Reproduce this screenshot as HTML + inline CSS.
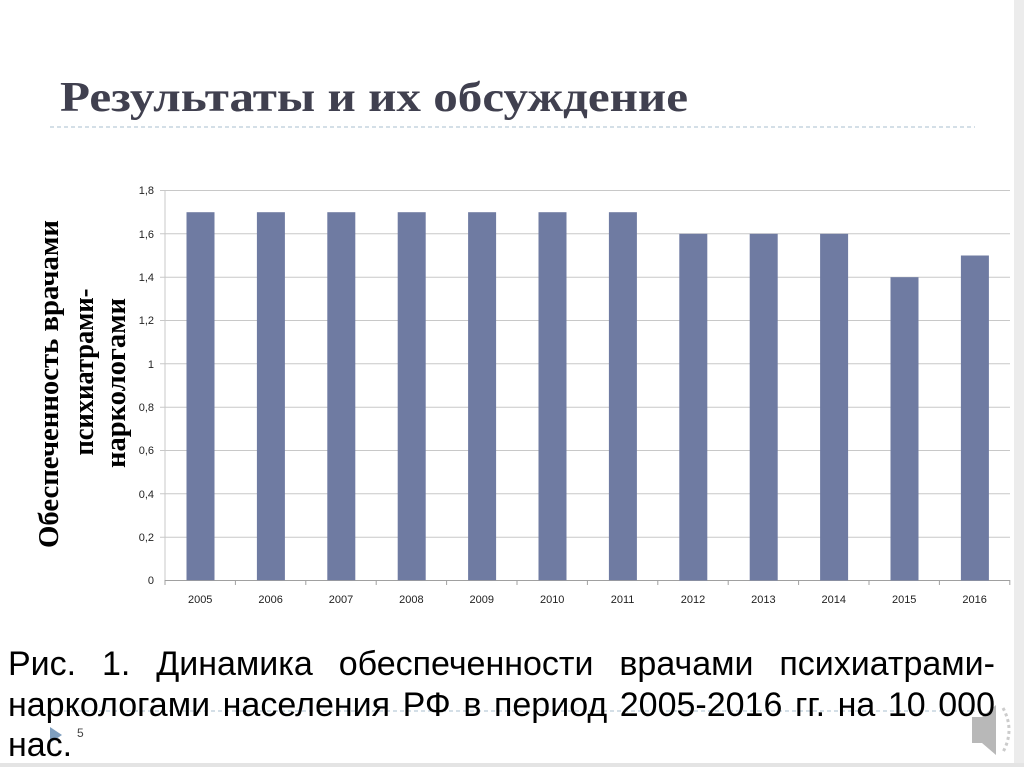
<!DOCTYPE html>
<html><head><meta charset="utf-8"><style>
body{margin:0;background:#fff;width:1024px;height:767px;overflow:hidden;position:relative}
.cap{position:absolute;left:8px;width:987px;font:34px/41px "Liberation Sans",sans-serif;color:#000;text-align:justify;text-align-last:justify;white-space:nowrap}
</style></head><body>
<svg width="1024" height="767" style="position:absolute;left:0;top:0" font-family="Liberation Sans, sans-serif">
<rect x="1014" y="0" width="10" height="767" fill="#ececec"/>
<rect x="0" y="763" width="1024" height="4" fill="#e4e4e4"/>
<text x="60" y="111" font-family="Liberation Serif, serif" font-weight="bold" font-size="42" fill="#40404f" textLength="628" lengthAdjust="spacingAndGlyphs">Результаты и их обсуждение</text>
<line x1="50" y1="127" x2="975" y2="127" stroke="#a9bfcf" stroke-dasharray="4,3"/>
<g stroke="#c8c8c8" stroke-width="1">
<line x1="160" y1="190.5" x2="1010" y2="190.5"/>
<line x1="160" y1="233.8" x2="1010" y2="233.8"/>
<line x1="160" y1="277.2" x2="1010" y2="277.2"/>
<line x1="160" y1="320.5" x2="1010" y2="320.5"/>
<line x1="160" y1="363.8" x2="1010" y2="363.8"/>
<line x1="160" y1="407.2" x2="1010" y2="407.2"/>
<line x1="160" y1="450.5" x2="1010" y2="450.5"/>
<line x1="160" y1="493.8" x2="1010" y2="493.8"/>
<line x1="160" y1="537.2" x2="1010" y2="537.2"/>
<line x1="165" y1="190" x2="165" y2="580"/>
</g>
<g stroke="#a0a0a0"><line x1="165" y1="580.5" x2="1010" y2="580.5"/>
<path d="M165 580v5M235.4 580v5M305.8 580v5M376.2 580v5M446.6 580v5M517 580v5M587.4 580v5M657.8 580v5M728.2 580v5M798.6 580v5M869 580v5M939.4 580v5M1009.8 580v5"/></g>
<g fill="#6f7ba2">
<rect x="186.5" y="212.2" width="28" height="368"/>
<rect x="256.9" y="212.2" width="28" height="368"/>
<rect x="327.3" y="212.2" width="28" height="368"/>
<rect x="397.7" y="212.2" width="28" height="368"/>
<rect x="468.1" y="212.2" width="28" height="368"/>
<rect x="538.5" y="212.2" width="28" height="368"/>
<rect x="608.9" y="212.2" width="28" height="368"/>
<rect x="679.3" y="233.8" width="28" height="346.7"/>
<rect x="749.7" y="233.8" width="28" height="346.7"/>
<rect x="820.1" y="233.8" width="28" height="346.7"/>
<rect x="890.5" y="277.2" width="28" height="303.3"/>
<rect x="960.9" y="255.5" width="28" height="325"/>
</g>
<g font-size="11" fill="#222" text-anchor="end">
<text x="154" y="194">1,8</text><text x="154" y="238">1,6</text><text x="154" y="281">1,4</text>
<text x="154" y="324">1,2</text><text x="154" y="368">1</text><text x="154" y="411">0,8</text>
<text x="154" y="454">0,6</text><text x="154" y="498">0,4</text><text x="154" y="541">0,2</text><text x="154" y="584">0</text>
</g>
<g font-size="11" fill="#222" text-anchor="middle">
<text x="200.2" y="603">2005</text><text x="270.6" y="603">2006</text><text x="341" y="603">2007</text>
<text x="411.4" y="603">2008</text><text x="481.8" y="603">2009</text><text x="552.2" y="603">2010</text>
<text x="622.6" y="603">2011</text><text x="693" y="603">2012</text><text x="763.4" y="603">2013</text>
<text x="833.8" y="603">2014</text><text x="904.2" y="603">2015</text><text x="974.6" y="603">2016</text>
</g>
<g font-family="Liberation Serif, serif" font-weight="bold" font-size="29" fill="#000" text-anchor="middle">
<text transform="translate(58,384) rotate(-90)" textLength="328" lengthAdjust="spacingAndGlyphs">Обеспеченность врачами</text>
<text transform="translate(93,372) rotate(-90)" textLength="167" lengthAdjust="spacingAndGlyphs">психиатрами-</text>
<text transform="translate(125,383) rotate(-90)" textLength="170" lengthAdjust="spacingAndGlyphs">наркологами</text>
</g>
<line x1="50" y1="711" x2="975" y2="711" stroke="#a9bfcf" stroke-dasharray="4,3"/>
<path d="M50 727 L62 735 L50 743Z" fill="#7f9fbf"/>
<text x="77" y="737" font-size="12" fill="#444">5</text>
<path d="M972 717h10l14-12v50l-14-12h-10z" fill="#b8b8b8"/>
<path d="M1003 708q12 22 0 44" stroke="#ccc" stroke-width="3" fill="none" stroke-dasharray="3,3"/>
</svg>
<div class="cap" style="top:644px">Рис. 1. Динамика обеспеченности врачами психиатрами-</div>
<div class="cap" style="top:685px">наркологами населения РФ в период 2005-2016 гг. на 10 000</div>
<div class="cap" style="top:725px;text-align-last:left">нас.</div>
</body></html>
